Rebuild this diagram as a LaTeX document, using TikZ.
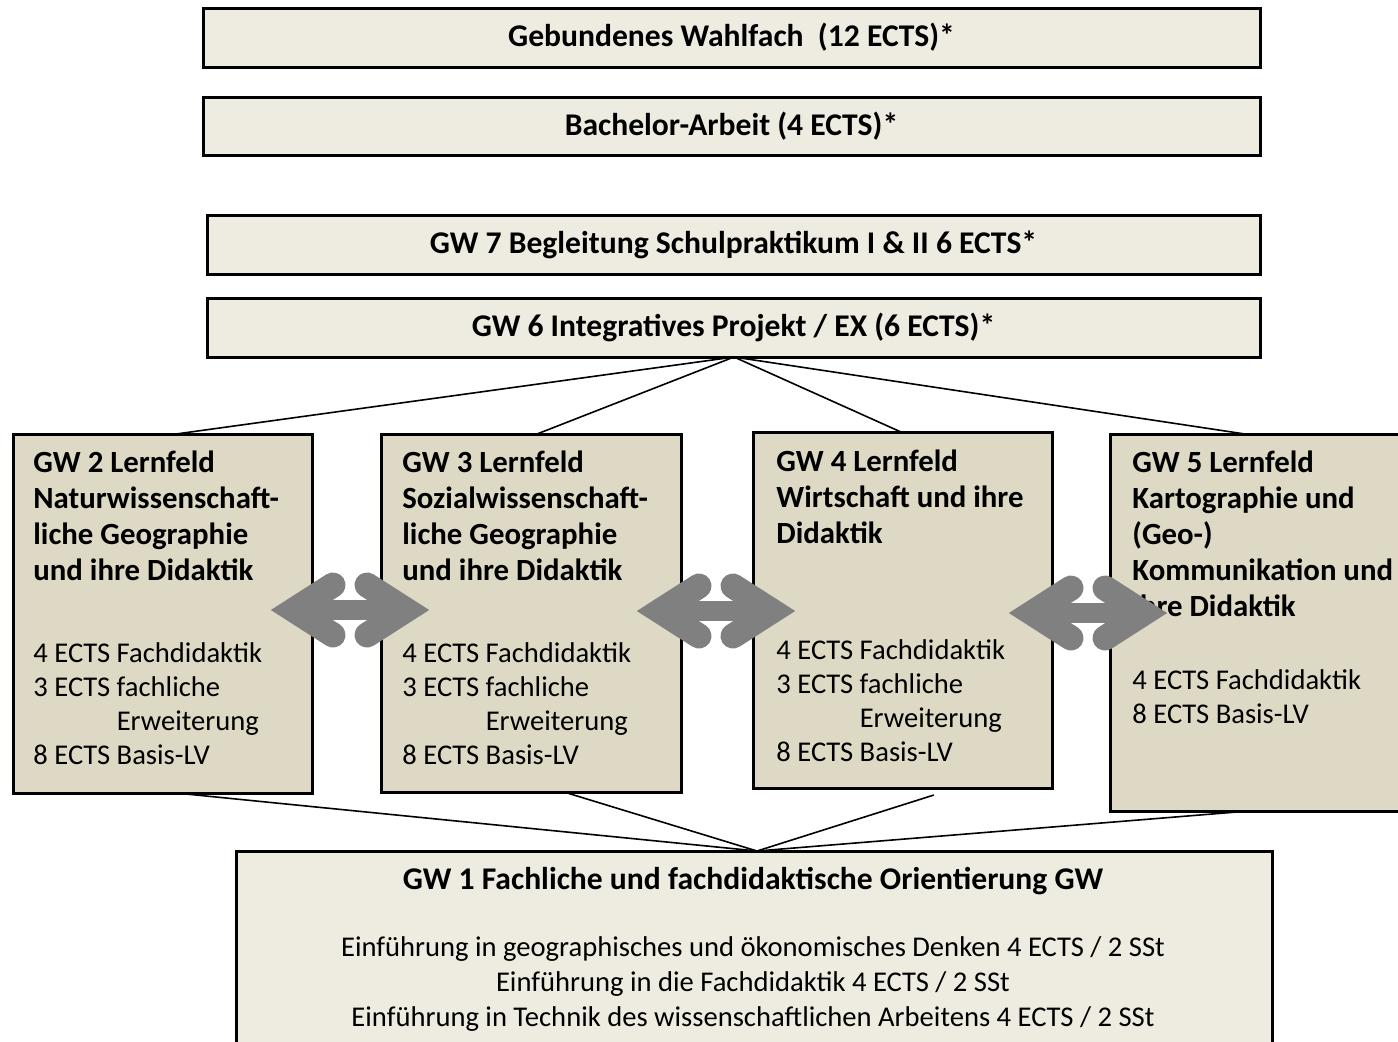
\documentclass[tikz,border=0pt]{standalone}
\usepackage{fontspec}
\setmainfont{Carlito}
\usetikzlibrary{calc}
\definecolor{lightbox}{HTML}{EEEBE0}
\definecolor{darkbox}{HTML}{DDD9C4}
\definecolor{arrowgray}{HTML}{808080}
\tikzset{
  boxbase/.style={draw=black, line width=1.5pt, inner sep=0pt, outer sep=0pt, anchor=north west},
  topbox/.style={boxbase, fill=lightbox, font=\bfseries\fontsize{15.8}{19}\selectfont},
  fieldbox/.style={boxbase, fill=darkbox},
  titletext/.style={anchor=north west, inner sep=0pt, align=left, font=\bfseries\fontsize{15.4}{18}\selectfont},
  ectstext/.style={anchor=north west, inner sep=0pt, align=left, font=\fontsize{14.3}{17}\selectfont},
  conn/.style={draw=black, line width=0.8pt},
  dblarrow/.pic={
    \draw[arrowgray, line width=12.5pt, line cap=round, line join=miter] (-17,-25) -- (-56,0) -- (-17,25);
    \draw[arrowgray, line width=12.5pt, line cap=round, line join=miter] (17,-25) -- (56,0) -- (17,25);
    \draw[arrowgray, line width=10pt] (-56,0) -- (56,0);
  }
}
\begin{document}
\begin{tikzpicture}[x=0.5pt,y=-0.5pt]
\useasboundingbox (0,0) rectangle (1398,1041);
\clip (0,0) rectangle (1398,1041);
\fill[white] (0,0) rectangle (1398,1041);

% top boxes
\node[topbox, minimum width=528.5pt, minimum height=29.5pt] (wahl) at (203,8) {Gebundenes Wahlfach\ \ (12 ECTS)*};
\node[topbox, minimum width=528.5pt, minimum height=29pt] (ba) at (203,97) {Bachelor-Arbeit (4 ECTS)*};
\node[topbox, minimum width=526.5pt, minimum height=29.5pt] (gw7) at (207,215) {GW 7 Begleitung Schulpraktikum I \& II 6 ECTS*};
\node[topbox, minimum width=526.5pt, minimum height=29.5pt] (gw6) at (207,298) {GW 6 Integratives Projekt / EX (6 ECTS)*};

% field boxes
\node[fieldbox, minimum width=149.5pt, minimum height=179.5pt] (gw2) at (13,434) {};
\node[fieldbox, minimum width=150pt, minimum height=179pt] (gw3) at (381,434) {};
\node[fieldbox, minimum width=149.5pt, minimum height=178pt] (gw4) at (753,432) {};
\node[fieldbox, minimum width=150pt, minimum height=188.5pt] (gw5) at (1110,434) {};

% bottom box
\node[boxbase, fill=lightbox, minimum width=518pt, minimum height=130pt] (gw1) at (236,851) {};

% connectors top
\coordinate (topapex) at ($(gw6.south)+(0.5,0)$);
\draw[conn] (topapex) -- ($(gw2.north west)!0.545!(gw2.north east)$);
\draw[conn] (topapex) -- ($(gw3.north west)!0.52!(gw3.north east)$);
\draw[conn] (topapex) -- ($(gw4.north west)!0.495!(gw4.north east)$);
\draw[conn] (topapex) -- ($(gw5.north west)!0.45!(gw5.north east)$);

% connectors bottom
\coordinate (botapex) at ($(gw1.north)+(3,0)$);
\draw[conn] ($(gw2.south west)!0.545!(gw2.south east)$) -- (botapex);
\draw[conn] ($(gw3.south west)!0.61!(gw3.south east)$) -- (botapex);
\draw[conn] ($(gw4.south west)!0.605!(gw4.south east)+(0,7)$) -- (botapex);
\draw[conn] ($(gw5.south west)!0.463!(gw5.south east)$) -- (botapex);

% field texts
\node[titletext] (t2) at ($(gw2.north west)+(20,16)$) {GW 2 Lernfeld\\Naturwissenschaft-\\liche Geographie\\und ihre Didaktik};
\node[ectstext] (e2) at ($(gw2.north west)+(20,208)$) {4 ECTS Fachdidaktik\\3 ECTS fachliche\\\phantom{3 ECTS }Erweiterung\\8 ECTS Basis-LV};

\node[titletext] (t3) at ($(gw3.north west)+(21,16)$) {GW 3 Lernfeld\\Sozialwissenschaft-\\liche Geographie\\und ihre Didaktik};
\node[ectstext] (e3) at ($(gw3.north west)+(21,208)$) {4 ECTS Fachdidaktik\\3 ECTS fachliche\\\phantom{3 ECTS }Erweiterung\\8 ECTS Basis-LV};

\node[titletext] (t4) at ($(gw4.north west)+(23,17)$) {GW 4 Lernfeld\\Wirtschaft und ihre\\Didaktik};
\node[ectstext] (e4) at ($(gw4.north west)+(23,207)$) {4 ECTS Fachdidaktik\\3 ECTS fachliche\\\phantom{3 ECTS }Erweiterung\\8 ECTS Basis-LV};

\node[titletext] (t5) at ($(gw5.north west)+(22,16)$) {GW 5 Lernfeld\\Kartographie und\\(Geo-)\\Kommunikation und\\ihre Didaktik};
\node[ectstext] (e5) at ($(gw5.north west)+(22,235)$) {4 ECTS Fachdidaktik\\8 ECTS Basis-LV};

% bottom texts
\node[inner sep=0pt, font=\bfseries\fontsize{15.8}{19}\selectfont] (t1) at (753,881) {GW 1 Fachliche und fachdidaktische Orientierung GW};
\node[inner sep=0pt, align=center, font=\fontsize{14.3}{17.5}\selectfont] (e1) at (753,984) {Einführung in geographisches und ökonomisches Denken 4 ECTS / 2 SSt\\Einführung in die Fachdidaktik 4 ECTS / 2 SSt\\Einführung in Technik des wissenschaftlichen Arbeitens 4 ECTS / 2 SSt};

% double arrows
\pic at (350,610) {dblarrow};
\pic at (716,611) {dblarrow};
\pic at (1088,613) {dblarrow};
\end{tikzpicture}
\end{document}
